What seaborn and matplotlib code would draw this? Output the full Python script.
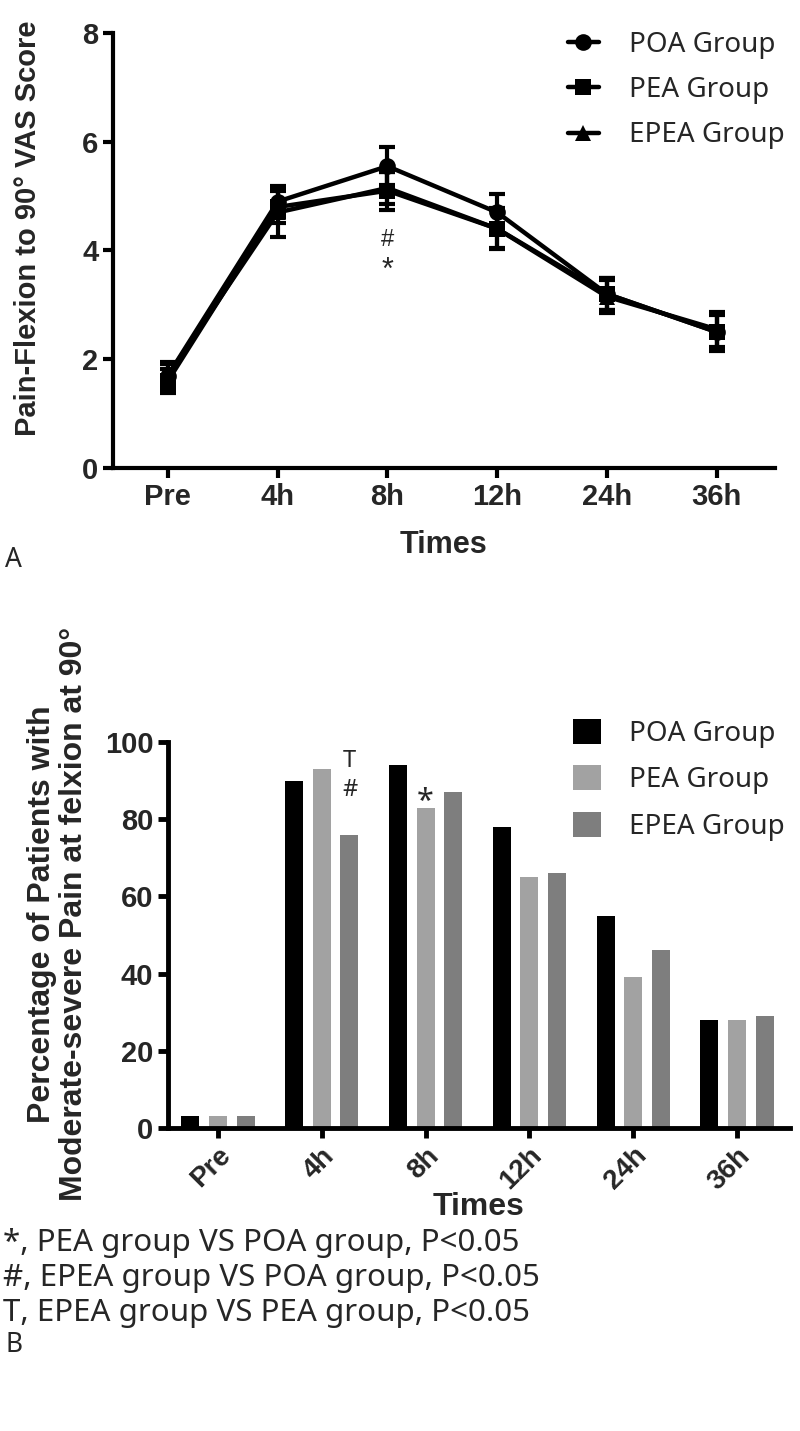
import seaborn as sns
import pandas as pd
import numpy as np
import matplotlib.pyplot as plt

# data
times = ['Pre', '4h', '8h', '12h', '24h', '36h']
groups = ['POA Group', 'PEA Group', 'EPEA Group']

vas_poa = [1.70, 4.90, 5.55, 4.70, 3.20, 2.50]
vas_pea = [1.60, 4.80, 5.10, 4.40, 3.20, 2.50]
vas_epea = [1.70, 4.70, 5.15, 4.40, 3.15, 2.55]
err_poa = [0.25, 0.28, 0.35, 0.33, 0.30, 0.35]
err_pea = [0.22, 0.30, 0.35, 0.35, 0.30, 0.32]
err_epea = [0.22, 0.45, 0.30, 0.38, 0.30, 0.32]

pct_poa = [3, 90, 94, 78, 55, 28]
pct_pea = [3, 93, 83, 65, 39, 28]
pct_epea = [3, 76, 87, 66, 46, 29]

notes = ['*, PEA group VS POA group, P<0.05',
         '#, EPEA group VS POA group, P<0.05',
         'T, EPEA group VS PEA group, P<0.05']

vas = pd.DataFrame({'time': times * 3,
                    'score': vas_poa + vas_pea + vas_epea,
                    'group': np.repeat(groups, len(times))})
pct = pd.DataFrame({'time': times * 3,
                    'pct': pct_poa + pct_pea + pct_epea,
                    'group': np.repeat(groups, len(times))})

sns.set_theme(style='ticks')
plt.rcParams['font.family'] = ['Liberation Sans', 'DejaVu Sans']

W, H = 800, 1431
fig = plt.figure(figsize=(W / 100, H / 100), dpi=100)

def px(x0, y0, x1, y1):
    # pixel box (top-left origin) -> figure fraction rect
    return [x0 / W, 1 - y1 / H, (x1 - x0) / W, (y1 - y0) / H]

bold = dict(fontweight='bold', family=['Liberation Sans', 'DejaVu Sans'])
soft = ['Noto Sans', 'DejaVu Sans']

# ---- panel A: VAS line chart
ax1 = fig.add_axes(px(113, 33, 775, 468))
sns.lineplot(data=vas, x='time', y='score', hue='group', style='group',
             palette=['black'] * 3, markers=['o', 's', '^'], dashes=False,
             lw=3.2, markersize=12, markeredgewidth=0, sort=False,
             errorbar=None, ax=ax1)
for m, e in [(vas_poa, err_poa), (vas_pea, err_pea), (vas_epea, err_epea)]:
    ax1.errorbar(times, m, yerr=e, fmt='none', ecolor='black',
                 elinewidth=3, capsize=6, capthick=3)
ax1.set_ylim(0, 8)
ax1.set_xlim(-0.5, 5.53)
ax1.set_yticks([0, 2, 4, 6, 8])
ax1.set_xlabel('Times', fontsize=22, labelpad=14, **bold)
ax1.set_ylabel('Pain-Flexion to 90° VAS Score', fontsize=21, **bold)
ax1.yaxis.set_label_coords(-0.107, 0.55)
for lab in ax1.get_xticklabels() + ax1.get_yticklabels():
    lab.set_fontsize(21)
    lab.set_fontweight('bold')
ax1.tick_params(width=3, length=7, color='black')
for s in ['left', 'bottom']:
    ax1.spines[s].set_linewidth(3)
    ax1.spines[s].set_color('black')
sns.despine(ax=ax1)
ax1.text('8h', 4.2, '#', ha='center', va='center', fontsize=17)
ax1.text('8h', 3.62, '*', ha='center', va='center', fontsize=22)
sns.move_legend(ax1, 'upper left', bbox_to_anchor=(568 / W, 1 - 31 / H),
                bbox_transform=fig.transFigure, frameon=False, title=None,
                prop={'family': soft, 'size': 20}, borderpad=0,
                borderaxespad=0, handlelength=1.1, handletextpad=1.1,
                labelspacing=0.62)

# ---- panel B: bar chart
ax2 = fig.add_axes(px(168, 742, 790, 1128))
sns.barplot(data=pct, x='time', y='pct', hue='group',
            palette=['#000000', '#a2a2a2', '#7e7e7e'], saturation=1,
            width=0.8, gap=0.35, linewidth=0, ax=ax2)
ax2.set_ylim(0, 100)
ax2.set_xlim(-0.48, 5.51)
ax2.set_yticks([0, 20, 40, 60, 80, 100])
ax2.set_xlabel('Times', fontsize=23, labelpad=-2, **bold)
ax2.set_ylabel('Percentage of Patients with\nModerate-severe Pain at felxion at 90°',
               fontsize=23, linespacing=1.1, **bold)
ax2.yaxis.set_label_coords(-0.127, 0.555)
for lab in ax2.get_yticklabels():
    lab.set_fontsize(21)
    lab.set_fontweight('bold')
for lab in ax2.get_xticklabels():
    lab.set_fontsize(20)
    lab.set_fontweight('bold')
    lab.set_rotation(45)
    lab.set_ha('right')
    lab.set_rotation_mode('anchor')
ax2.tick_params(width=3.5, length=7, color='black')
for s in ['left', 'bottom']:
    ax2.spines[s].set_linewidth(3.5)
    ax2.spines[s].set_color('black')
sns.despine(ax=ax2)
ax2.text(1.27, 95.0, 'T', ha='center', va='center', fontsize=17, family=soft)
ax2.text(1.27, 87.5, '#', ha='center', va='center', fontsize=17, family=soft)
ax2.text(2.0, 84.5, '*', ha='center', va='center', fontsize=22, family=soft)
sns.move_legend(ax2, 'upper left', bbox_to_anchor=(573 / W, 1 - 719 / H),
                bbox_transform=fig.transFigure, frameon=False, title=None,
                prop={'family': soft, 'size': 20}, borderpad=0,
                borderaxespad=0, handlelength=1.0, handleheight=1.0,
                handletextpad=1.0, labelspacing=0.63)

# ---- panel letters and footnotes
fig.text(5 / W, 1 - 560 / H, 'A', fontsize=19, family=soft, va='center')
for i, n in enumerate(notes):
    fig.text(3 / W, 1 - (1243 + 35 * i) / H, n, fontsize=22.5, family=soft,
             va='center')
fig.text(5 / W, 1 - 1345 / H, 'B', fontsize=19, family=soft, va='center')

fig.savefig('out.png', dpi=100, facecolor='white')
